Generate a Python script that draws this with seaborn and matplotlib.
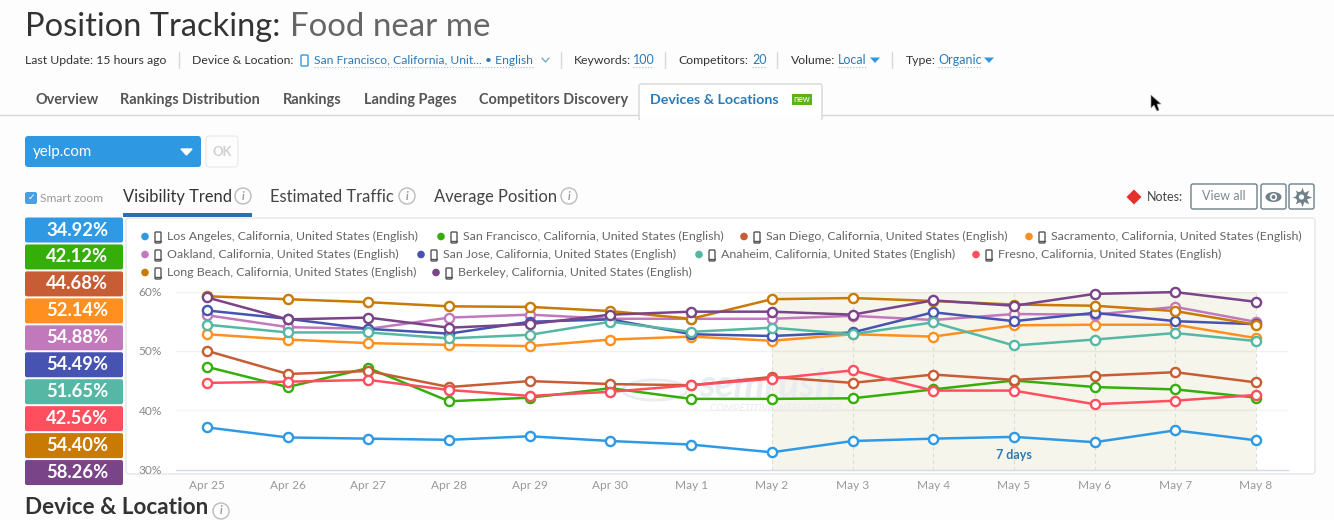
import matplotlib
matplotlib.use("Agg")
import matplotlib.pyplot as plt
from matplotlib.patches import FancyBboxPatch, Rectangle, Circle, Polygon, Ellipse
import pandas as pd
import seaborn as sns

days = ["Apr 25", "Apr 26", "Apr 27", "Apr 28", "Apr 29", "Apr 30", "May 1",
        "May 2", "May 3", "May 4", "May 5", "May 6", "May 7", "May 8"]

los_angeles = [37.1, 35.4, 35.2, 35.0, 35.6, 34.8, 34.2, 32.9, 34.8, 35.2, 35.5, 34.6, 36.6, 34.92]
san_francisco = [47.3, 43.9, 47.1, 41.5, 42.1, 43.7, 41.9, 41.9, 42.0, 43.5, 45.0, 43.9, 43.5, 42.12]
san_diego = [50.0, 46.1, 46.6, 43.9, 44.9, 44.4, 44.2, 45.6, 44.6, 46.0, 45.1, 45.8, 46.4, 44.68]
sacramento = [52.8, 51.9, 51.3, 51.0, 50.8, 51.9, 52.4, 51.7, 52.8, 52.4, 54.3, 54.4, 54.4, 52.14]
oakland = [56.0, 54.0, 53.7, 55.6, 56.1, 55.4, 55.4, 55.4, 55.9, 55.2, 56.2, 56.1, 57.4, 54.88]
san_jose = [56.8, 55.4, 53.7, 52.9, 54.9, 55.3, 52.8, 52.5, 53.1, 56.5, 55.0, 56.4, 55.0, 54.49]
anaheim = [54.4, 53.1, 53.1, 52.1, 52.7, 54.9, 53.2, 53.9, 52.8, 54.8, 50.9, 51.9, 53.0, 51.65]
fresno = [44.6, 44.8, 45.1, 43.4, 42.4, 43.1, 44.2, 45.3, 46.7, 43.3, 43.3, 41.0, 41.6, 42.56]
long_beach = [59.2, 58.7, 58.2, 57.5, 57.4, 56.7, 55.4, 58.7, 58.9, 58.4, 57.8, 57.6, 56.7, 54.40]
berkeley = [59.0, 55.3, 55.6, 53.9, 54.5, 56.1, 56.6, 56.6, 56.1, 58.5, 57.6, 59.6, 59.9, 58.26]

cities = ["Los Angeles", "San Francisco", "San Diego", "Sacramento", "Oakland",
          "San Jose", "Anaheim", "Fresno", "Long Beach", "Berkeley"]
series = [los_angeles, san_francisco, san_diego, sacramento, oakland,
          san_jose, anaheim, fresno, long_beach, berkeley]
colors = ["#2f9ae3", "#36ae0a", "#c65d35", "#ff9020", "#c279bc",
          "#4753b0", "#55b7a4", "#ff4f5e", "#c97a04", "#7a4489"]
badges = ["34.92%", "42.12%", "44.68%", "52.14%", "54.88%",
          "54.49%", "51.65%", "42.56%", "54.40%", "58.26%"]

rows = []
for city, vals in zip(cities, series):
    for i, v in enumerate(vals):
        rows.append({"city": city, "day": i, "visibility": v})
df = pd.DataFrame(rows)

sns.set_theme(style="white")
plt.rcParams["font.family"] = ["Lato", "DejaVu Sans"]

W, H = 1334, 520
fig = plt.figure(figsize=(W / 100, H / 100), dpi=100, facecolor="#fdfdfd")

# page furniture, in pixel coordinates
ui = fig.add_axes([0, 0, 1, 1], zorder=1)
ui.set_xlim(0, W)
ui.set_ylim(H, 0)
ui.axis("off")


def label(x, y, s, px=12, color="#444444", ha="left", weight="normal", style="normal", z=5):
    return ui.text(x, y, s, fontsize=px * 0.72, color=color, ha=ha, va="center",
                   fontweight=weight, fontstyle=style, zorder=z)


def box(x0, y0, x1, y1, fc="white", ec="none", r=3, lw=1, z=2):
    ui.add_patch(FancyBboxPatch((x0 + r, y0 + r), x1 - x0 - 2 * r, y1 - y0 - 2 * r,
                                boxstyle="round,pad=%d,rounding_size=%d" % (r, r),
                                fc=fc, ec=ec, lw=lw, zorder=z))


def phone(x, y, color="#555555"):
    box(x - 3, y - 5, x + 3, y + 6, fc="white", ec=color, r=1, lw=1, z=4)
    ui.plot([x - 3, x + 3], [y + 3.5, y + 3.5], color=color, lw=1, zorder=5)


def info(x, y):
    ui.add_patch(Circle((x, y), 8, fc="none", ec="#bbbbbb", lw=1, zorder=4))
    label(x, y, "i", px=11, color="#999999", ha="center", style="italic", weight="bold")


blue = "#2a7ab8"
line = "#d8d8d8"

# header
label(25, 27, "Position Tracking:", px=32.6, color="#333333")
label(290, 27, "Food near me", px=33, color="#666666")

label(25, 60, "Last Update: 15 hours ago", px=12.3, color="#333333")
ui.plot([179, 179], [52, 68], color=line, lw=1)
label(192, 60, "Device & Location:", px=12.2, color="#333333")
box(301, 55, 308, 66, fc="none", ec="#2f9ae3", r=1, lw=1)
label(314, 60, "San Francisco, California, Unit... • English", px=12.1, color=blue)
ui.plot([314, 533], [67, 67], color="#9cc4e0", lw=0.8, ls=":")
ui.plot([542, 545.5, 549], [58, 62, 58], color="#7aa9cc", lw=1)
ui.plot([561, 561], [52, 68], color=line, lw=1)
label(574, 60, "Keywords:", px=12.2, color="#333333")
label(633, 60, "100", px=12.5, color=blue)
ui.plot([633, 654], [67, 67], color="#9cc4e0", lw=0.8, ls=":")
ui.plot([665, 665], [52, 68], color=line, lw=1)
label(678, 60, "Competitors:", px=12.3, color="#333333")
label(752, 60, "20", px=12.5, color=blue)
ui.plot([752, 766], [67, 67], color="#9cc4e0", lw=0.8, ls=":")
ui.plot([777, 777], [52, 68], color=line, lw=1)
label(791, 60, "Volume:", px=12.3, color="#333333")
label(838, 60, "Local", px=12.5, color=blue)
ui.plot([838, 867], [67, 67], color="#9cc4e0", lw=0.8, ls=":")
ui.add_patch(Polygon([(870, 57.5), (880, 57.5), (875, 63)], fc="#2f9ae3", ec="none", zorder=4))
ui.plot([892, 892], [52, 68], color=line, lw=1)
label(906, 60, "Type:", px=12.3, color="#333333")
label(938, 60, "Organic", px=12.5, color=blue)
ui.plot([938, 981], [67, 67], color="#9cc4e0", lw=0.8, ls=":")
ui.add_patch(Polygon([(984, 57.5), (994, 57.5), (989, 63)], fc="#2f9ae3", ec="none", zorder=4))

# tabs
ui.plot([0, W], [115, 115], color="#d5d8d8", lw=1, zorder=1)
box(639, 84, 822, 120, fc="white", ec="#d5d8d8", r=2, z=2)
ui.add_patch(Rectangle((640, 115.5), 181, 6, fc="#fdfdfd", ec="none", zorder=3))
for x, s in zip([36, 120, 283, 364, 479],
                ["Overview", "Rankings Distribution", "Rankings", "Landing Pages", "Competitors Discovery"]):
    label(x, 100, s, px=14.5, color="#555555", weight="bold")
label(650, 100, "Devices & Locations", px=14.3, color=blue, weight="bold")
ui.add_patch(Rectangle((792, 94), 20, 11, fc="#5bb318", ec="none", zorder=4))
label(802, 99, "new", px=9, color="white", ha="center")

# cursor
ui.add_patch(Polygon([(1151, 95), (1151, 108), (1154, 105), (1157, 111), (1159, 110),
                      (1157, 104), (1161, 104)], fc="black", ec="#999999", lw=0.5, zorder=6))

# site picker
box(25, 136, 201, 167, fc="#2f98e3", r=3)
label(33, 152, "yelp.com", px=15, color="white")
ui.add_patch(Polygon([(181, 149), (192, 149), (186.5, 155)], fc="white", zorder=4))
box(206, 136, 238, 167, fc="#fdfdfd", ec="#ececec", r=3)
label(222, 152, "OK", px=13, color="#cfcfcf", ha="center", weight="bold")

# chart tabs
box(25, 192, 37, 204, fc="#4a9fdc", r=2)
label(31, 197.5, "✓", px=9, color="white", ha="center")
label(40, 198, "Smart zoom", px=12, color="#999999")
label(123, 197, "Visibility Trend", px=16.5, color="#333333")
info(243, 196)
ui.add_patch(Rectangle((123, 213), 129, 4, fc="#2a6fb5", ec="none", zorder=4))
label(270, 197, "Estimated Traffic", px=16.5, color="#444444")
info(407, 196)
label(434, 197, "Average Position", px=16.5, color="#444444")
info(569, 196)

# notes and buttons
ui.add_patch(Polygon([(1134, 189.5), (1141.5, 197), (1134, 204.5), (1126.5, 197)], fc="#e5302e", ec="none", zorder=4))
label(1147, 197, "Notes:", px=12.5, color="#444444")
box(1191, 184, 1257, 209, fc="white", ec="#6f8088", r=2)
label(1224, 196.5, "View all", px=12.5, color="#7b8a90", ha="center")
box(1261, 184, 1286, 209, fc="white", ec="#6f8088", r=2)
ui.add_patch(Ellipse((1273.5, 197), 16, 10, fc="#6f8088", ec="none", zorder=4))
ui.add_patch(Circle((1273.5, 197), 3.6, fc="white", ec="none", zorder=5))
ui.add_patch(Circle((1273.5, 197), 2, fc="#6f8088", ec="none", zorder=6))
box(1289, 184, 1314, 209, fc="white", ec="#6f8088", r=2)
ui.plot([1301.5], [197], marker=(8, 1, 0), markersize=14, color="#6f8088", mec="none", zorder=5)
ui.add_patch(Circle((1301.5, 197), 5.5, fc="#6f8088", ec="none", zorder=5))
ui.add_patch(Circle((1301.5, 197), 2.6, fc="white", ec="none", zorder=6))

# panel and badges
box(126, 218, 1315, 474, fc="white", ec="#e4e7e8", r=3, z=1)
for i, (val, col) in enumerate(zip(badges, colors)):
    y0 = 217.5 + i * 26.95
    box(25, y0, 123, y0 + 25, fc=col, r=2)
    label(77, y0 + 12.5, val, px=18.4, color="white", ha="center", weight="bold")

# legend, laid out the way the page wraps it
legend_rows = [
    [(0, 145), (1, 441), (2, 744), (3, 1029)],
    [(4, 145), (5, 421), (6, 699), (7, 976)],
    [(8, 145), (9, 436)],
]
for r, entries in enumerate(legend_rows):
    y = 236.5 + r * 18
    for idx, x in entries:
        ui.add_patch(Circle((x, y), 3.8, fc=colors[idx], ec="none", zorder=4))
        phone(x + 13, y + 0.5)
        label(x + 22, y, "%s, California, United States (English)" % cities[idx], px=12.4, color="#666666")

label(25, 508, "Device & Location", px=22.5, color="#333333", weight="bold")
info(221, 511)

# the chart itself
x_left, x_right, y_top, y_bottom = 176, 1288, 291.5, 469.5
step = (1256 - 207) / 13
ax = fig.add_axes([x_left / W, 1 - y_bottom / H, (x_right - x_left) / W, (y_bottom - y_top) / H], zorder=2)
ax.patch.set_alpha(0)
ax.axvspan(7, 13, ymin=0, ymax=1, color="#f5f5ec", lw=0, zorder=0)
for d in range(7, 14):
    ax.axvline(d, color="#dcdcd4", lw=0.8, ls=(0, (3, 3)), zorder=0.5)
for v in [40, 50, 60]:
    ax.axhline(v, color="#f1f2f4", lw=1, zorder=0.6)
    ax.hlines(v, 7, 13, color="#e7e7df", lw=1, zorder=0.65)

# faint watermark behind the lines
ax.add_patch(Ellipse((5.55, 43.4), 0.8, 3.4, fc="none", ec="#e9ecf1", lw=2, zorder=0.7))
ax.text(6.95, 44.1, "semrush", fontsize=28, color="#e9ecf1", ha="center", va="center",
        fontstyle="italic", fontweight="bold", zorder=0.7)
ax.text(7.05, 40.3, "COMPETITIVE INTELLIGENCE", fontsize=7.5, color="#e9ecf1", ha="center", va="center",
        fontstyle="italic", zorder=0.7)

sns.lineplot(data=df, x="day", y="visibility", hue="city", hue_order=cities, palette=colors,
             marker="o", markersize=6.6, markerfacecolor="white", markeredgewidth=1.7,
             linewidth=1.8, legend=False, ax=ax, clip_on=False, zorder=3)
# seaborn drops the edge colour to white for markers, put the series colour back
for ln, col in zip(ax.get_lines()[-len(cities):], colors):
    ln.set_markeredgecolor(col)

ax.text(10, 32.5, "7 days", fontsize=9, color="#2a7ab8", fontweight="bold", ha="center", va="center", zorder=4)

ax.set_xlim((x_left - 207) / step, (x_right - 207) / step)
ax.set_ylim(30, 60)
ax.set_xticks(range(len(days)))
ax.set_xticklabels(days)
ax.set_yticks([30, 40, 50, 60])
ax.set_yticklabels(["30%", "40%", "50%", "60%"])
ax.set_xlabel("")
ax.set_ylabel("")
ax.tick_params(axis="x", length=6, width=0.8, color="#d5d9ea", labelsize=8.6, labelcolor="#999999", pad=1.5)
ax.tick_params(axis="y", length=0, labelsize=8.6, labelcolor="#888888", pad=10)
for name in ["top", "left", "right"]:
    ax.spines[name].set_visible(False)
ax.spines["bottom"].set_color("#d5d9ea")
ax.spines["bottom"].set_linewidth(1)

fig.savefig("out.png", dpi=100, facecolor=fig.get_facecolor())
